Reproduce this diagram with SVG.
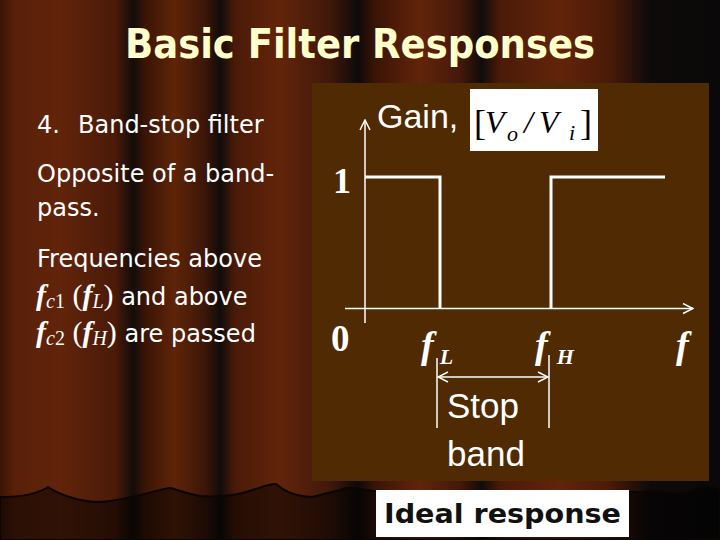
<svg xmlns="http://www.w3.org/2000/svg" width="720" height="540" viewBox="0 0 720 540">
<defs>
<linearGradient id="curtain" gradientUnits="userSpaceOnUse" x1="0" y1="0" x2="720" y2="0">
<stop offset="0" stop-color="#3a1406"/>
<stop offset="0.021" stop-color="#58200a"/>
<stop offset="0.083" stop-color="#62240a"/>
<stop offset="0.16" stop-color="#4a1a08"/>
<stop offset="0.185" stop-color="#120c0a"/>
<stop offset="0.201" stop-color="#3a1406"/>
<stop offset="0.243" stop-color="#5e2408"/>
<stop offset="0.285" stop-color="#3c1608"/>
<stop offset="0.306" stop-color="#100c0a"/>
<stop offset="0.326" stop-color="#4a1a08"/>
<stop offset="0.389" stop-color="#62240a"/>
<stop offset="0.458" stop-color="#40180a"/>
<stop offset="0.497" stop-color="#0e0a0a"/>
<stop offset="0.521" stop-color="#3a1406"/>
<stop offset="0.583" stop-color="#62240a"/>
<stop offset="0.639" stop-color="#44180a"/>
<stop offset="0.669" stop-color="#100c0a"/>
<stop offset="0.694" stop-color="#4a1a08"/>
<stop offset="0.778" stop-color="#62240a"/>
<stop offset="0.847" stop-color="#4a1a08"/>
<stop offset="0.903" stop-color="#0e0a0a"/>
<stop offset="1" stop-color="#0a0808"/>
</linearGradient>
<marker id="vee" viewBox="0 0 12 12" refX="11" refY="6" markerWidth="12" markerHeight="12" markerUnits="userSpaceOnUse" orient="auto-start-reverse">
<path d="M1,1 L11,6 L1,11" fill="none" stroke="#ffffff" stroke-width="1.5"/>
</marker>
</defs>
<style>
.lbl{font-family:"DejaVu Sans",sans-serif;fill:#ffffff;font-size:24px}
.math{font-family:"Liberation Serif","Times New Roman",serif;font-style:italic}
.arial{font-family:"Liberation Sans",Arial,sans-serif;fill:#ffffff}
.axis{stroke:#ffffff;stroke-width:1.5;fill:none}
.curve{stroke:#ffffff;stroke-width:3;fill:none}
</style>
<rect x="0" y="0" width="720" height="540" fill="url(#curtain)"/>
<path d="M0,497 C20,497 36,495 48,487 C60,495 80,502 100,502 C130,500 155,490 170,488 C180,490 186,494 200,496 C215,497 232,496 246,492 C260,488 268,484 276,484 C283,490 292,496 312,497 L340,490 C346,487 352,487 360,489 L380,492 L640,492 C660,490 672,495 685,493 C694,489 700,486 708,486 C714,487 718,489 720,490 L720,540 L0,540 Z" fill="#000000" fill-opacity="0.5" stroke="#0a0604" stroke-width="2"/>
<g id="title">
<text x="360" y="58" text-anchor="middle" font-family="'DejaVu Sans',sans-serif" font-weight="bold" font-size="40" fill="#ffffcc" textLength="470" lengthAdjust="spacingAndGlyphs">Basic Filter Responses</text>
</g>
<g id="bullets">
<text class="lbl" x="37" y="133">4.<tspan x="78">Band-stop filter</tspan></text>
<text class="lbl" x="37" y="182">Opposite of a band-</text>
<text class="lbl" x="37" y="216">pass.</text>
<text class="lbl" x="37" y="267">Frequencies above</text>
<text class="lbl" x="36" y="305"><tspan class="math" font-size="30" font-weight="bold">f</tspan><tspan class="math" font-size="20" dy="3">c</tspan><tspan font-family="'Liberation Serif',serif" font-size="20">1</tspan><tspan font-family="'Liberation Serif',serif" font-size="30" dy="-3"> (</tspan><tspan class="math" font-size="30" font-weight="bold">f</tspan><tspan class="math" font-size="20" dy="3">L</tspan><tspan font-family="'Liberation Serif',serif" font-size="30" dy="-3">)</tspan> and above</text>
<text class="lbl" x="36" y="342"><tspan class="math" font-size="30" font-weight="bold">f</tspan><tspan class="math" font-size="20" dy="3">c</tspan><tspan font-family="'Liberation Serif',serif" font-size="20">2</tspan><tspan font-family="'Liberation Serif',serif" font-size="30" dy="-3"> (</tspan><tspan class="math" font-size="30" font-weight="bold">f</tspan><tspan class="math" font-size="20" dy="3">H</tspan><tspan font-family="'Liberation Serif',serif" font-size="30" dy="-3">)</tspan> are passed</text>
</g>
<g id="panel">
<rect x="312" y="83" width="397" height="398" fill="#4f2a02"/>
</g>
<g id="gain-label">
<text class="arial" x="377" y="128" font-size="34">Gain,</text>
<rect x="470" y="89" width="128" height="62" fill="#ffffff"/>
<text x="474" y="135" font-family="'Liberation Serif',serif" font-size="36" fill="#000000">[</text>
<text class="math" x="485" y="133" font-size="32" fill="#000000">V</text>
<text class="math" x="507" y="141" font-size="22" fill="#000000">o</text>
<text class="math" x="524" y="133" font-size="32" fill="#000000">/</text>
<text class="math" x="539" y="133" font-size="32" fill="#000000">V</text>
<text class="math" x="569" y="140" font-size="22" fill="#000000">i</text>
<text x="580" y="135" font-family="'Liberation Serif',serif" font-size="36" fill="#000000">]</text>
</g>
<g id="connectors">
<line class="axis" x1="365" y1="323" x2="365" y2="120" marker-end="url(#vee)"/>
<line class="axis" x1="345" y1="308.5" x2="693" y2="308.5" marker-end="url(#vee)"/>
<polyline class="curve" points="365,177 440,177 440,309"/>
<polyline class="curve" points="551,309 551,177 665,177"/>
<line class="axis" x1="437" y1="358" x2="437" y2="428"/>
<line class="axis" x1="549" y1="355" x2="549" y2="428"/>
<line class="axis" x1="438" y1="377" x2="548" y2="377" marker-start="url(#vee)" marker-end="url(#vee)"/>
</g>
<g id="axis-labels">
<text x="333" y="193" font-family="'Liberation Serif',serif" font-weight="bold" font-size="36" fill="#ffffff">1</text>
<text x="331" y="351" font-family="'Liberation Serif',serif" font-weight="bold" font-size="37" fill="#ffffff">0</text>
<text class="math" x="421" y="358" font-size="38" font-weight="bold" fill="#ffffff">f<tspan font-size="22" dy="6" dx="6">L</tspan></text>
<text class="math" x="535" y="358" font-size="38" font-weight="bold" fill="#ffffff">f<tspan font-size="22" dy="6" dx="9">H</tspan></text>
<text class="math" x="676" y="358" font-size="38" font-weight="bold" fill="#ffffff">f</text>
</g>
<g id="stop-band">
<text class="arial" x="447" y="418" font-size="35">Stop</text>
<text class="arial" x="447" y="466" font-size="35">band</text>
</g>
<g id="ideal-response">
<rect x="376" y="490" width="253" height="47" fill="#ffffff"/>
<text x="384" y="523" font-family="'DejaVu Sans',sans-serif" font-weight="bold" font-size="27" fill="#111111" textLength="237" lengthAdjust="spacingAndGlyphs">Ideal response</text>
</g>
</svg>
